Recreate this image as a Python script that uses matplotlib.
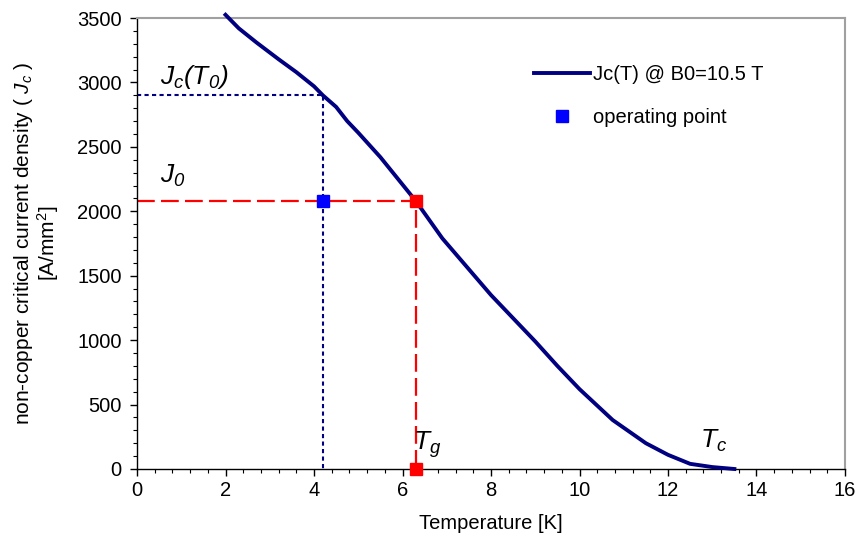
import matplotlib
matplotlib.use("Agg")
import matplotlib.pyplot as plt
from matplotlib.ticker import MultipleLocator

plt.rcParams['font.family'] = ['Liberation Sans', 'DejaVu Sans']
plt.rcParams['mathtext.fontset'] = 'custom'
plt.rcParams['mathtext.it'] = 'Liberation Sans:italic'
plt.rcParams['mathtext.rm'] = 'Liberation Sans:italic'
plt.rcParams['mathtext.sf'] = 'Liberation Sans'
plt.rcParams['mathtext.default'] = 'it'

# Jc(T) curve
T = [2.0, 2.3, 2.7, 3.2, 3.6, 4.0, 4.2, 4.5, 4.75, 5.0, 5.5, 5.9, 6.3, 6.9, 7.5, 8.0,
     8.5, 9.0, 9.5, 10.0, 10.5, 10.75, 11.0, 11.5, 12.0, 12.5, 13.0, 13.5]
Jc = [3525, 3420, 3310, 3180, 3080, 2970, 2900, 2810, 2700, 2610, 2420, 2250, 2080, 1790, 1550, 1350,
      1170, 990, 800, 620, 460, 380, 320, 200, 110, 40, 15, 0]

T0 = 4.2
Jc_T0 = 2900
Tg = 6.3
J0 = 2080

fig = plt.figure(figsize=(8.59, 5.41), dpi=100)
ax = fig.add_axes([0.1595, 0.1331, 0.8242, 0.8336])

navy = '#000080'
red = '#ff0000'

# guide lines
ax.plot([0, T0, T0], [Jc_T0, Jc_T0, 0], color=navy, lw=1.5, ls=(0, (2, 1.6)), zorder=2)
ax.plot([0, Tg, Tg], [J0, J0, 0], color=red, lw=1.6, ls=(0, (8, 2.8)), zorder=2)

ax.plot(T, Jc, color=navy, lw=2.8, label='Jc(T) @ B0=10.5 T', zorder=3, clip_on=False)
ax.plot([T0], [J0], ls='none', marker='s', ms=8.5, color='#0000ff', label='operating point', zorder=4)
ax.plot([Tg, Tg], [J0, 0], ls='none', marker='s', ms=8.5, color=red, zorder=5, clip_on=False)

ax.set_xlim(0, 16)
ax.set_ylim(0, 3500)
ax.xaxis.set_major_locator(MultipleLocator(2))
ax.xaxis.set_minor_locator(MultipleLocator(0.4))
ax.yaxis.set_major_locator(MultipleLocator(500))
ax.yaxis.set_minor_locator(MultipleLocator(100))
ax.tick_params(which='major', direction='out', length=5, width=1, labelsize=14.5, colors='black')
ax.tick_params(axis='y', which='major', pad=6)
ax.tick_params(which='minor', direction='out', length=3, width=0.8)

for s in ['top', 'right']:
    ax.spines[s].set_color('#a0a0a0')
    ax.spines[s].set_linewidth(1.5)
for s in ['left', 'bottom']:
    ax.spines[s].set_color('black')
    ax.spines[s].set_linewidth(1.0)

ax.set_xlabel('Temperature [K]', fontsize=14.5, labelpad=10)
ax.set_ylabel('non-copper critical current density ( $J_c$ )\n[A/mm$^\\mathsf{2}$]', fontsize=15,
              labelpad=11.5, linespacing=1.0, family=['Liberation Sans', 'DejaVu Sans'])

ax.text(0.52, 2985, '$J_c(T_0)$', fontsize=19, ha='left', va='baseline')
ax.text(0.52, 2220, '$J_0$', fontsize=19, ha='left', va='baseline')
ax.text(6.24, 147, '$T_g$', fontsize=19, ha='left', va='baseline')
ax.text(12.72, 163, '$T_c$', fontsize=19, ha='left', va='baseline')

leg = ax.legend(loc='upper left', bbox_to_anchor=(0.535, 0.935), frameon=False, fontsize=14.5,
                handlelength=2.8, labelspacing=1.15, handletextpad=0.12, markerscale=1.0)

fig.savefig('out.png', dpi=100)
